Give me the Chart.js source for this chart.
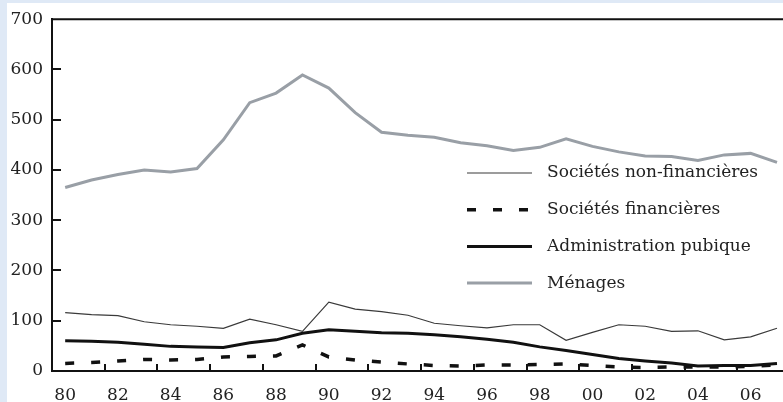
<!DOCTYPE html>
<html>
<head>
<meta charset="utf-8">
<script src="https://cdn.jsdelivr.net/npm/chart.js@4/dist/chart.umd.min.js"></script>
<style>
  html, body { margin: 0; padding: 0; overflow: hidden; background: #dfe9f6; }
  #panel { position: absolute; left: 7px; top: 3px; width: 800px; height: 420px; background: #fff; }
  #chart { position: absolute; left: 0; top: 0; }
</style>
</head>
<body>
<div id="panel"></div>
<canvas id="chart" width="791" height="402"></canvas>
<script>
const years = ['80','81','82','83','84','85','86','87','88','89','90','91','92','93',
  '94','95','96','97','98','99','00','01','02','03','04','05','06','07'];

const nonFinancieres = [116, 112, 110, 98, 92, 89, 85, 103, 92, 79, 137, 123, 118, 111,
  95, 90, 86, 92, 92, 61, 77, 92, 89, 79, 80, 62, 68, 85];
const financieres = [15, 17, 20, 23, 22, 23, 28, 29, 30, 52, 28, 22, 18, 14,
  11, 10, 12, 12, 13, 14, 11, 8, 7, 8, 8, 8, 9, 12];
const administration = [60, 59, 57, 53, 49, 48, 47, 56, 62, 75, 82, 79, 76, 75,
  72, 68, 63, 57, 48, 41, 33, 25, 20, 16, 10, 11, 11, 15];
const menages = [365, 380, 391, 400, 396, 403, 460, 534, 553, 589, 563, 514, 475, 469,
  465, 454, 448, 439, 445, 462, 447, 436, 428, 427, 419, 430, 433, 415];

const yTicks = [0, 100, 200, 300, 400, 500, 600, 700];

const font = '"DejaVu Serif", serif';

// inward tick marks, top frame line and the in-plot legend
const framePlugin = {
  id: 'frame',
  afterDraw(chart) {
    const ctx = chart.ctx;
    const area = chart.chartArea;
    const x = chart.scales.x;
    const y = chart.scales.y;
    ctx.save();
    ctx.setLineDash([]);
    ctx.strokeStyle = '#111';
    ctx.lineWidth = 2;
    ctx.beginPath();
    ctx.moveTo(area.left - 1, area.top);
    ctx.lineTo(chart.width, area.top);
    ctx.stroke();

    yTicks.forEach(v => {
      if (v === 0 || v === 700) return;
      const py = Math.round(y.getPixelForValue(v));
      ctx.beginPath();
      ctx.moveTo(area.left, py);
      ctx.lineTo(area.left + 9, py);
      ctx.stroke();
    });
    for (let i = 2; i < years.length; i += 2) {
      const px = Math.round((x.getPixelForValue(i - 1) + x.getPixelForValue(i)) / 2);
      ctx.beginPath();
      ctx.moveTo(px, area.bottom);
      ctx.lineTo(px, area.bottom - 7);
      ctx.stroke();
    }

    // legend
    const lx = 467, lw = 65, ty = 173, gap = 36.7;
    ctx.font = '17px ' + font;
    ctx.textBaseline = 'middle';
    ctx.fillStyle = '#222';
    chart.data.datasets.forEach(ds => {
      const yy = ty + ds.legendRow * gap;
      ctx.strokeStyle = ds.borderColor;
      ctx.lineWidth = ds.borderWidth;
      ctx.setLineDash(ds.borderDash || []);
      ctx.lineCap = 'butt';
      ctx.beginPath();
      ctx.moveTo(lx, yy);
      ctx.lineTo(lx + lw, yy);
      ctx.stroke();
      ctx.setLineDash([]);
      ctx.fillText(ds.label, lx + lw + 15, yy);
    });
    ctx.restore();
  }
};

new Chart(document.getElementById('chart'), {
  type: 'line',
  data: {
    labels: years,
    datasets: [
      {
        label: 'Ménages',
        legendRow: 3,
        data: menages,
        borderColor: '#999fa6',
        borderWidth: 3,
      },
      {
        label: 'Sociétés non-financières',
        legendRow: 0,
        data: nonFinancieres,
        borderColor: '#3a3a3a',
        borderWidth: 1.2,
      },
      {
        label: 'Sociétés financières',
        legendRow: 1,
        data: financieres,
        borderColor: '#111',
        borderWidth: 3.5,
        borderDash: [9, 17],
      },
      {
        label: 'Administration pubique',
        legendRow: 2,
        data: administration,
        borderColor: '#111',
        borderWidth: 3,
      },
    ],
  },
  options: {
    responsive: false,
    animation: false,
    layout: { padding: { top: 12, left: 0, right: 0, bottom: 0 } },
    elements: {
      point: { radius: 0 },
      line: { tension: 0, fill: false },
    },
    plugins: {
      legend: { display: false },
      tooltip: { enabled: false },
    },
    scales: {
      x: {
        type: 'category',
        offset: true,
        grid: { display: false, drawTicks: false },
        border: { display: true, color: '#111', width: 2 },
        ticks: {
          autoSkip: false,
          maxRotation: 0,
          padding: 14,
          color: '#222',
          font: { family: font, size: 17 },
          callback: (v, i) => (i % 2 === 0 ? years[i] : ''),
        },
        afterFit: s => { s.height = 31; },
      },
      y: {
        min: 0,
        max: 700,
        afterBuildTicks: s => { s.ticks = yTicks.map(v => ({ value: v })); },
        grid: { display: false, drawTicks: false },
        border: { display: true, color: '#111', width: 2 },
        ticks: {
          padding: 9,
          color: '#222',
          font: { family: font, size: 17 },
        },
        afterFit: s => { s.width = 52; },
      },
    },
  },
  plugins: [framePlugin],
});
</script>
</body>
</html>
